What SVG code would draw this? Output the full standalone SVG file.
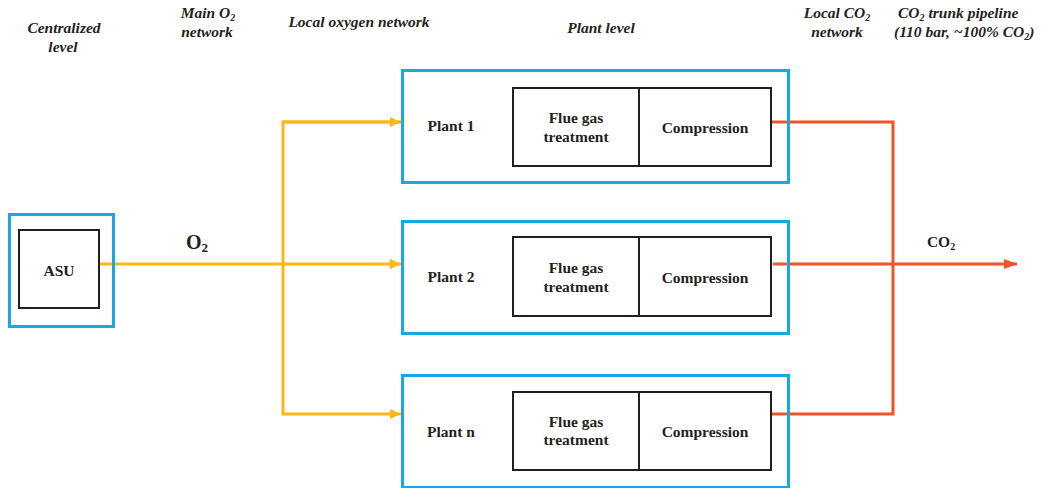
<svg xmlns="http://www.w3.org/2000/svg" width="1051" height="488" viewBox="0 0 1051 488">
<defs>
<style>
.hdr{font-family:"Liberation Serif","Times New Roman",serif;font-weight:bold;font-style:italic;font-size:15.5px;fill:#231f20;text-anchor:middle}
.lbl{font-family:"Liberation Serif","Times New Roman",serif;font-weight:bold;font-size:15.5px;fill:#231f20;text-anchor:middle}
.outer{fill:none;stroke:#1ba7e1;stroke-width:3}
.inner{fill:none;stroke:#231f20;stroke-width:2}
.o2{fill:none;stroke:#fbb716;stroke-width:3}
.co2{fill:none;stroke:#ee5426;stroke-width:3}
</style>
<marker id="ay" markerUnits="userSpaceOnUse" markerWidth="12" markerHeight="12" viewBox="0 0 12 12" refX="11" refY="6" orient="auto"><path d="M0,1 L11,6 L0,11 Z" fill="#fbb716"/></marker>
<marker id="ar" markerUnits="userSpaceOnUse" markerWidth="14" markerHeight="12" viewBox="0 0 14 12" refX="13" refY="6" orient="auto"><path d="M0,1 L13,6 L0,11 Z" fill="#ee5426"/></marker>
</defs>
<rect width="1051" height="488" fill="#ffffff"/>

<g id="headers">
<text class="hdr" x="64" y="33">Centralized</text>
<text class="hdr" x="63" y="52">level</text>
<text class="hdr" x="208" y="18">Main O<tspan font-size="10" dy="3">2</tspan></text>
<text class="hdr" x="207" y="37">network</text>
<text class="hdr" x="359" y="27">Local oxygen network</text>
<text class="hdr" x="601" y="33">Plant level</text>
<text class="hdr" x="837" y="18">Local CO<tspan font-size="10" dy="3">2</tspan></text>
<text class="hdr" x="837" y="37">network</text>
<text class="hdr" x="898" y="18" style="text-anchor:start">CO<tspan font-size="10" dy="3">2</tspan><tspan dy="-3"> trunk pipeline</tspan></text>
<text class="hdr" x="894" y="37" style="text-anchor:start">(110 bar, ~100% CO<tspan font-size="10" dy="3">2</tspan><tspan dy="-3">)</tspan></text>
</g>

<g id="connectors">
<path class="o2" d="M100,264 H401" marker-end="url(#ay)"/>
<path class="o2" d="M401,122 H283 V414 H401" marker-end="url(#ay)"/>
<path class="o2" d="M283,122 H401" marker-end="url(#ay)"/>
<path class="co2" d="M771,122 H893 V414 H771"/>
<path class="co2" d="M773,264 H1017" marker-end="url(#ar)"/>
<text class="lbl" x="197" y="249" font-size="20" style="font-size:20px">O<tspan style="font-size:13px" dy="3">2</tspan></text>
<text class="lbl" x="941" y="247">CO<tspan style="font-size:10px" dy="3">2</tspan></text>
</g>

<g id="asu">
<rect class="outer" x="9.5" y="214.5" width="104" height="112"/>
<rect class="inner" x="19" y="230" width="80" height="78"/>
<text class="lbl" x="59" y="276">ASU</text>
</g>

<g id="plant1">
<rect class="outer" x="402.5" y="70.5" width="386" height="112"/>
<rect class="inner" x="513" y="88" width="258" height="78"/>
<line class="inner" x1="639" y1="88" x2="639" y2="166"/>
<text class="lbl" x="451" y="131">Plant 1</text>
<text class="lbl" x="576" y="123">Flue gas</text>
<text class="lbl" x="576" y="142">treatment</text>
<text class="lbl" x="705" y="133">Compression</text>
</g>

<g id="plant2">
<rect class="outer" x="402.5" y="221.5" width="386" height="112"/>
<rect class="inner" x="513" y="237" width="258" height="79"/>
<line class="inner" x1="639" y1="237" x2="639" y2="316"/>
<text class="lbl" x="451" y="282">Plant 2</text>
<text class="lbl" x="576" y="273">Flue gas</text>
<text class="lbl" x="576" y="292">treatment</text>
<text class="lbl" x="705" y="283">Compression</text>
</g>

<g id="plantn">
<rect class="outer" x="402.5" y="375.5" width="386" height="112"/>
<rect class="inner" x="513" y="392" width="258" height="78"/>
<line class="inner" x1="639" y1="392" x2="639" y2="470"/>
<text class="lbl" x="451" y="437">Plant n</text>
<text class="lbl" x="576" y="427">Flue gas</text>
<text class="lbl" x="576" y="445">treatment</text>
<text class="lbl" x="705" y="437">Compression</text>
</g>
</svg>
